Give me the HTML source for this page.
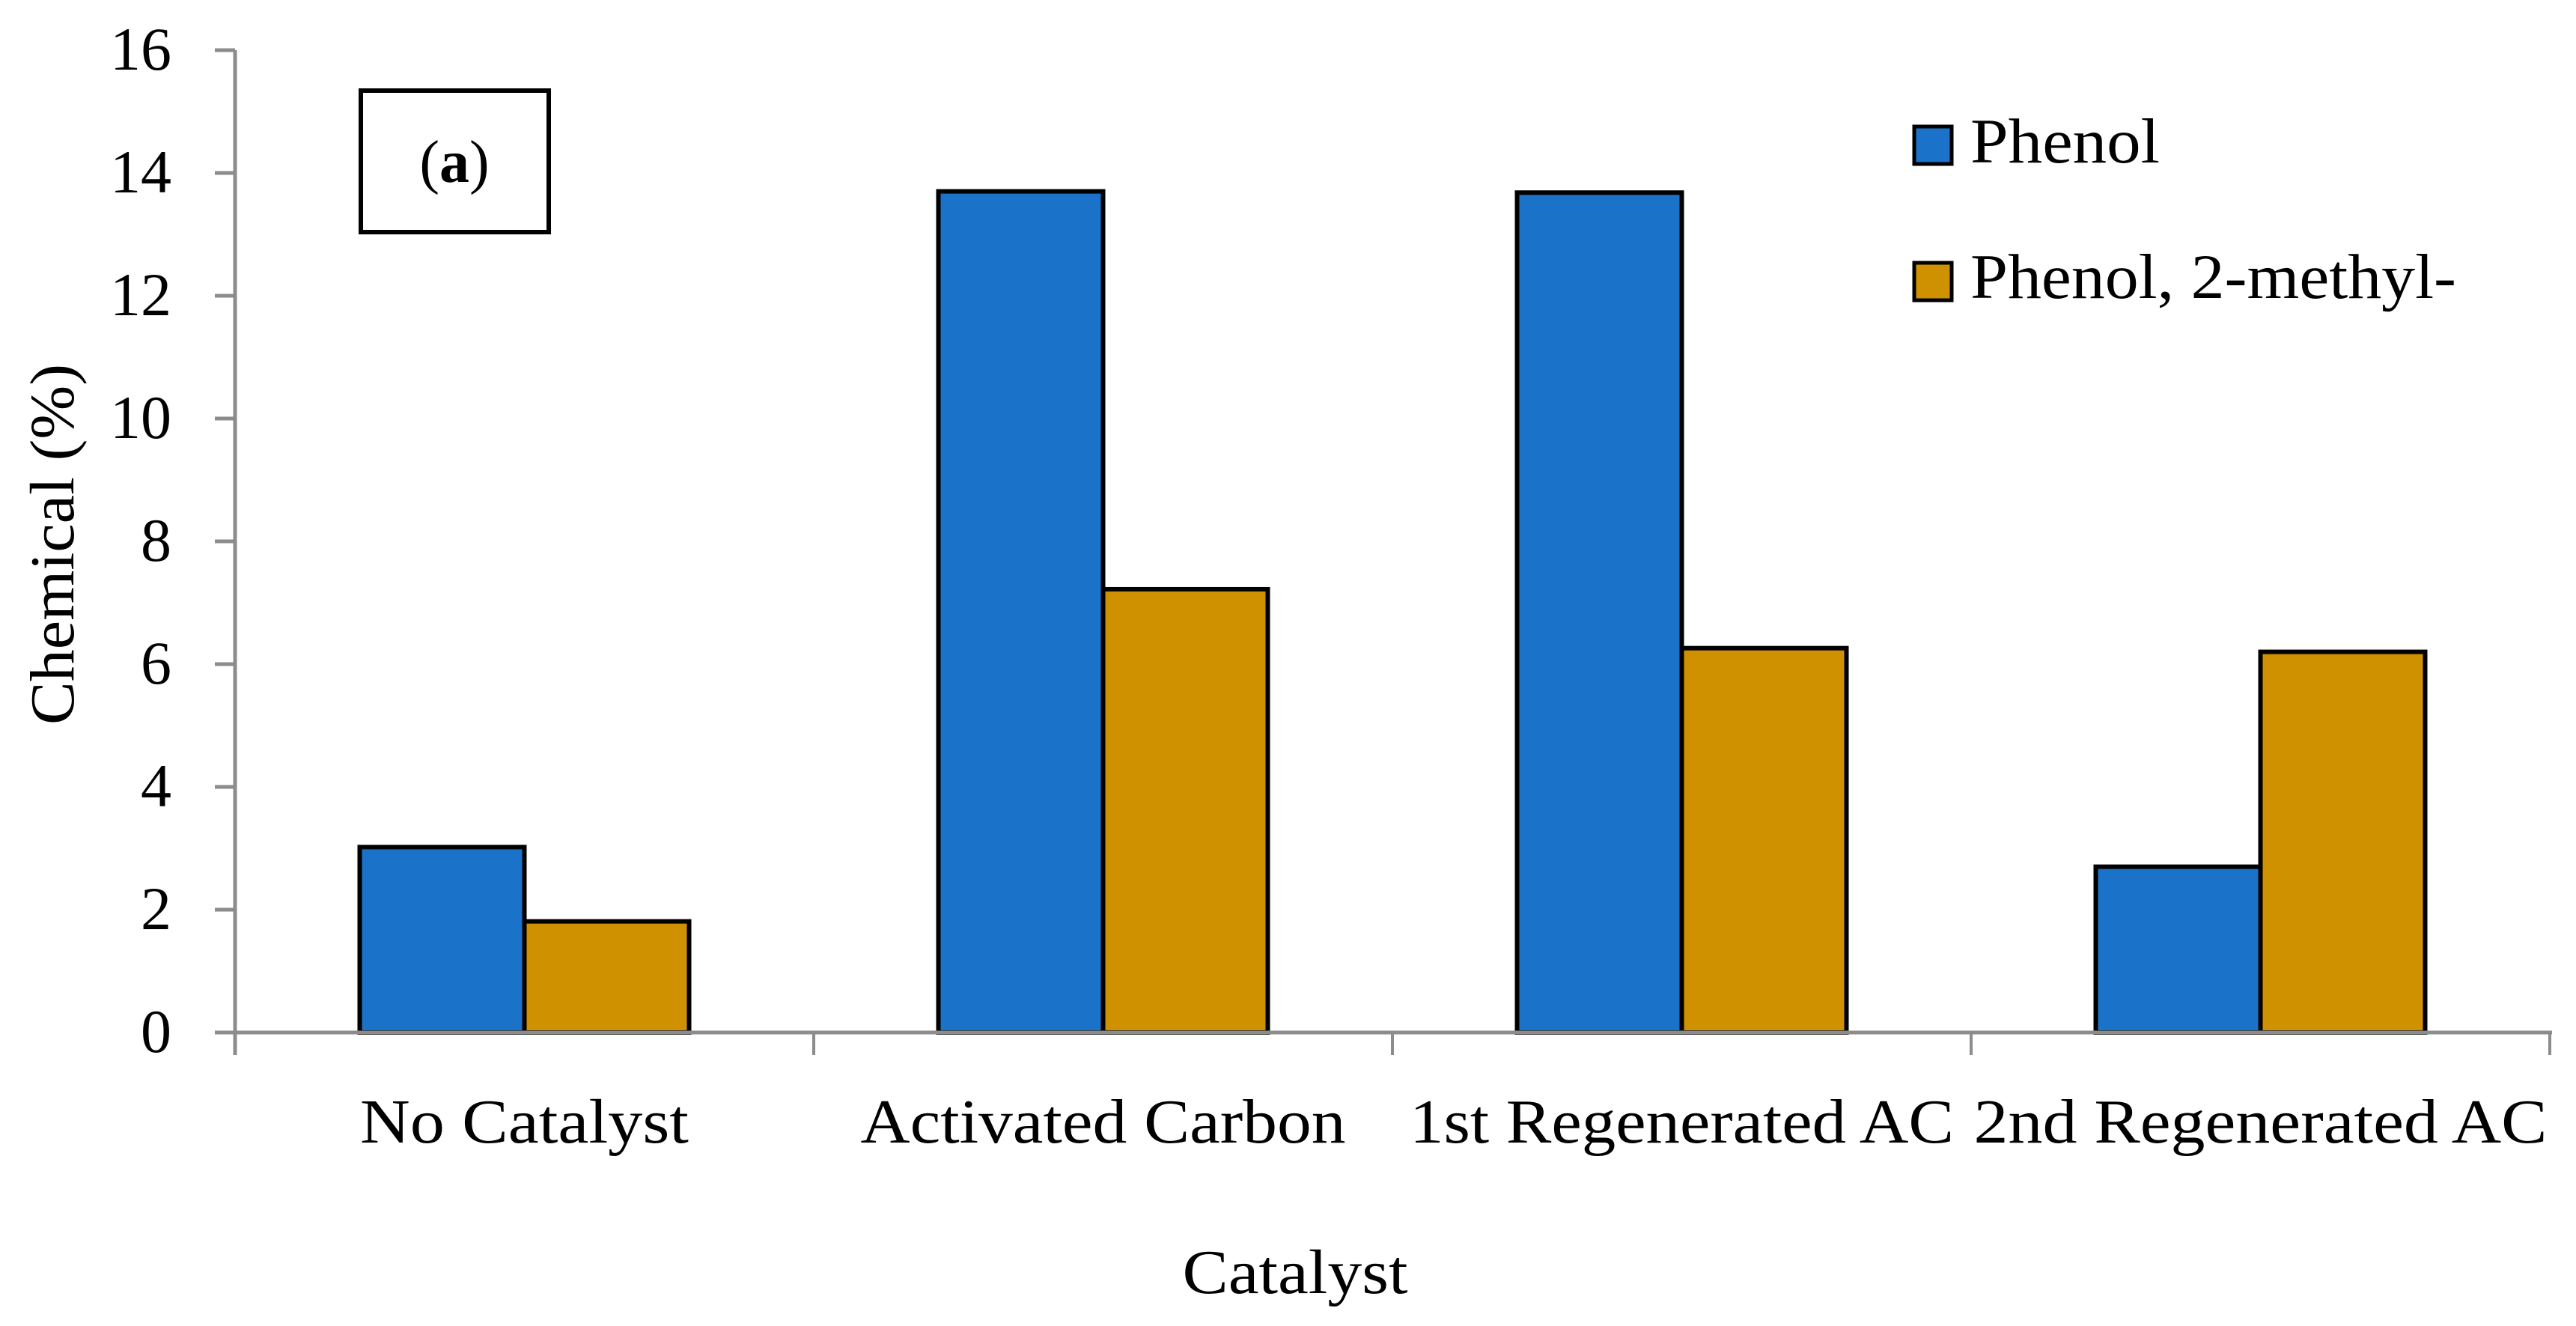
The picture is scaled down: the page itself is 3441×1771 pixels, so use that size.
<!DOCTYPE html>
<html><head><meta charset="utf-8"><style>
html,body{margin:0;padding:0;background:#fff;}
svg{display:block;font-family:"Liberation Serif",serif;}
</style></head><body>
<svg id="chart" width="3441" height="1771" viewBox="0 0 3441 1771">
<g id="grid"></g>
<g id="bars"></g>
<g id="axes"></g>
<rect x="482" y="121" width="251" height="189" fill="#fff" stroke="#000" stroke-width="6"/>
<text x="607" y="243" font-size="80" text-anchor="middle">(<tspan font-weight="bold">a</tspan>)</text>
<text transform="translate(98,727) rotate(-90)" font-size="84" text-anchor="middle" textLength="482" lengthAdjust="spacingAndGlyphs">Chemical (%)</text>
<text x="1730" y="1727" font-size="84" text-anchor="middle" textLength="301" lengthAdjust="spacingAndGlyphs">Catalyst</text>
<rect x="2557" y="169" width="50" height="50" fill="#1a73c9" stroke="#000" stroke-width="5"/>
<text x="2632" y="217" font-size="85" textLength="253" lengthAdjust="spacingAndGlyphs">Phenol</text>
<rect x="2557" y="351" width="50" height="50" fill="#cf9100" stroke="#000" stroke-width="5"/>
<text x="2632" y="398" font-size="85" textLength="649" lengthAdjust="spacingAndGlyphs">Phenol, 2-methyl-</text>
</svg>
<script>
const categories = ["No Catalyst","Activated Carbon","1st Regenerated AC","2nd Regenerated AC"];
const labelWidths = [439,648,727,766];
const phenol = [3.02,13.7,13.68,2.7];
const methylPhenol = [1.81,7.22,6.26,6.2];
const yTicks = [0,2,4,6,8,10,12,14,16];

const NS="http://www.w3.org/2000/svg";
const x0=314,x1=3406,yZero=1379,yTop=67,yMax=16;
const catW=(x1-x0)/categories.length;
const y=v=>yZero-(yZero-yTop)*v/yMax;
const bandStart=i=>x0+catW*i;
const barW=220;
function mk(tag,attrs,parent){const e=document.createElementNS(NS,tag);for(const k in attrs)e.setAttribute(k,attrs[k]);parent.appendChild(e);return e;}
const bars=document.getElementById('bars'),axes=document.getElementById('axes');
categories.forEach((c,i)=>{
  const cx=bandStart(i)+catW/2;
  const a=mk('rect',{x:cx-barW,y:y(phenol[i]),width:barW,height:yZero-y(phenol[i]),fill:'#1a73c9',stroke:'#000','stroke-width':6},bars);
  
  
  const b=mk('rect',{x:cx,y:y(methylPhenol[i]),width:barW,height:yZero-y(methylPhenol[i]),fill:'#cf9100',stroke:'#000','stroke-width':6},bars);
  
  
  const t=mk('text',{x:cx,y:1526,'font-size':84,'text-anchor':'middle',textLength:labelWidths[i],lengthAdjust:'spacingAndGlyphs'},axes);
  t.textContent=c;
  
  
});
const yl=mk('line',{x1:x0,y1:yTop,x2:x0,y2:yZero+30,stroke:'#8c8c8c','stroke-width':5},axes);


const xl=mk('line',{x1:x0-27,y1:yZero,x2:x1+3,y2:yZero,stroke:'#8c8c8c','stroke-width':5},axes);


for(let i=0;i<=categories.length;i++){
  const tx=bandStart(i);
  const tk=mk('line',{x1:tx,y1:yZero,x2:tx,y2:yZero+30,stroke:'#8c8c8c','stroke-width':4},axes);
  
  
}
yTicks.forEach(v=>{
  const tk=mk('line',{x1:x0-27,y1:y(v),x2:x0,y2:y(v),stroke:'#8c8c8c','stroke-width':5},axes);
  
  
  const t=mk('text',{x:229,y:y(v)+26,'font-size':82,'text-anchor':'end'},axes);
  t.textContent=v;
  
  
});
</script>
</body></html>
